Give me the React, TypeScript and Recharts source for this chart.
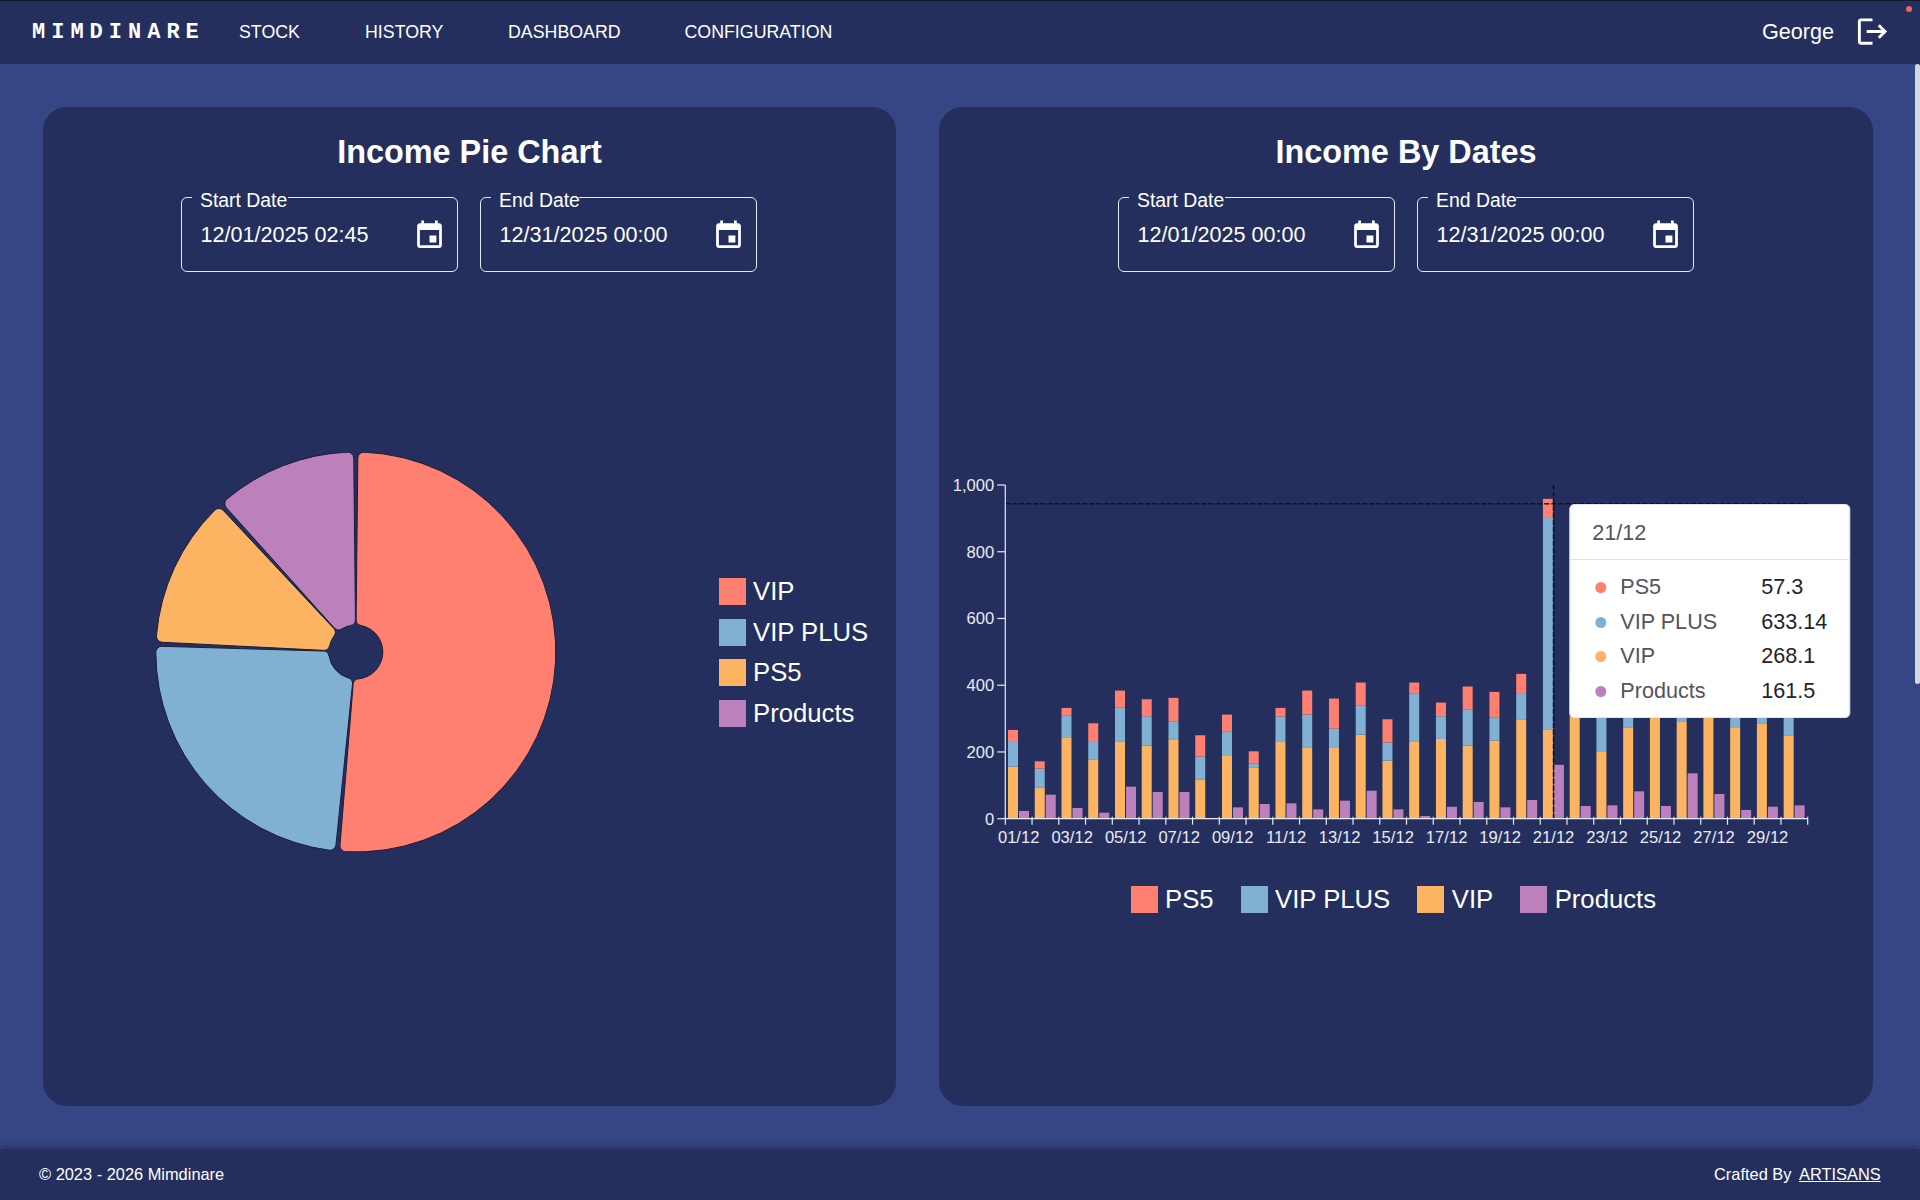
import {
  Bar,
  BarChart,
  Cell,
  Legend,
  Pie,
  PieChart,
  ReferenceLine,
  Tooltip,
  XAxis,
  YAxis
} from 'recharts';

const dates = [
  '01/12', '02/12', '03/12', '04/12', '05/12', '06/12', '07/12', '08/12', '09/12', '10/12',
  '11/12', '12/12', '13/12', '14/12', '15/12', '16/12', '17/12', '18/12', '19/12', '20/12',
  '21/12', '22/12', '23/12', '24/12', '25/12', '26/12', '27/12', '28/12', '29/12', '30/12'
];
const vipValues = [156, 94, 242, 178, 232, 219, 238, 118, 188, 154, 230, 212, 212, 252, 174, 230, 239, 219, 234, 296, 268.1, 336, 200, 274, 330, 292, 320, 274, 284, 248];
const vipPlusValues = [74, 56, 68, 52, 102, 88, 54, 68, 74, 12, 76, 100, 58, 88, 54, 146, 68, 109, 70, 78, 633.14, 65, 130, 60, 40, 60, 50, 70, 60, 90];
const ps5Values = [36, 22, 22, 56, 50, 51, 70, 64, 50, 36, 26, 72, 90, 68, 70, 32, 41, 68, 76, 60, 57.3, 47, 40, 50, 45, 40, 48, 45, 50, 40];
const productValues = [23, 72, 32, 18, 96, 80, 80, 0, 34, 44, 46, 28, 54, 84, 28, 8, 36, 50, 34, 56, 161.5, 38, 40, 82, 38, 136, 74, 26, 36, 40];

const pieNames = ['VIP', 'VIP PLUS', 'PS5', 'Products'];
const pieValues = [7055, 3289, 1687, 1583];
const pieColors = ['#FF7F71', '#80B1D3', '#FDB462', '#BC80BD'];

const barLegend = [
  { name: 'PS5', color: '#FF7F71' },
  { name: 'VIP PLUS', color: '#80B1D3' },
  { name: 'VIP', color: '#FDB462' },
  { name: 'Products', color: '#BC80BD' }
];
const yTicks = [0, 200, 400, 600, 800, 1000];
const navItems = [
  { label: 'STOCK', left: 239 },
  { label: 'HISTORY', left: 365 },
  { label: 'DASHBOARD', left: 508 },
  { label: 'CONFIGURATION', left: 684.5 }
];

const chartData = dates.map((date, i) => ({
  date,
  vip: vipValues[i],
  vipPlus: vipPlusValues[i],
  ps5: ps5Values[i],
  products: productValues[i]
}));
const pieData = pieNames.map((name, i) => ({ name, value: pieValues[i] }));

const FONT = '"Liberation Sans", Arial, sans-serif';
const CARD = '#242F5E';
const PAGE = '#364684';
const AXIS = '#E9EAF2';
const PLOT_WIDTH = 801.4;
const BAND = PLOT_WIDTH / dates.length;

function CalendarIcon({ left, top }: { left: number; top: number }) {
  return (
    <svg viewBox="0 0 24 24" width={33} height={33} style={{ position: 'absolute', left, top }}>
      <path fill="#fff" d="M17 12h-5v5h5v-5zM16 1v2H8V1H6v2H5c-1.11 0-1.99.9-1.99 2L3 19c0 1.1.89 2 2 2h14c1.1 0 2-.9 2-2V5c0-1.1-.9-2-2-2h-1V1h-2zm3 18H5V8h14v11z" />
    </svg>
  );
}

function DateField({ left, label, value, notch }: { left: number; label: string; value: string; notch: number }) {
  return (
    <div style={{ position: 'absolute', left, top: 197, width: 277, height: 75, boxSizing: 'border-box', border: '1.5px solid #E8E9F0', borderRadius: 6 }}>
      <div style={{ position: 'absolute', left: 10, top: -3, width: notch, height: 5, background: CARD }} />
      <div style={{ position: 'absolute', left: 18, top: -9, fontSize: 19.4, lineHeight: '22px', color: '#fff' }}>{label}</div>
      <div style={{ position: 'absolute', left: 18.5, top: 24, fontSize: 21.6, lineHeight: '26px', color: '#fff' }}>{value}</div>
      <CalendarIcon left={231} top={21} />
    </div>
  );
}

function XTick({ x, y, payload, index }: any) {
  const axisY = y - 10;
  return (
    <g>
      <line x1={x - BAND / 2} x2={x - BAND / 2} y1={axisY} y2={axisY + 8} stroke={AXIS} strokeWidth={1.2} />
      {index === dates.length - 1 ? (
        <line x1={x + BAND / 2} x2={x + BAND / 2} y1={axisY} y2={axisY + 8} stroke={AXIS} strokeWidth={1.2} />
      ) : null}
      {index % 2 === 0 ? (
        <text x={x} y={y + 16} textAnchor="middle" fontSize={16.6} fill={AXIS} fontFamily={FONT}>
          {payload.value}
        </text>
      ) : null}
    </g>
  );
}

function IncomeTooltip({ payload, label }: any) {
  if (!payload?.length) return null;
  return (
    <div style={{ width: 281, height: 214, boxSizing: 'border-box', background: '#fff', borderRadius: 5, border: '1px solid #E3E4EA', fontFamily: FONT, fontSize: 21.6, color: '#55535F' }}>
      <div style={{ height: 54, lineHeight: '55px', paddingLeft: 22, borderBottom: '1.5px solid #DFE0E6' }}>{label}</div>
      <div style={{ paddingTop: 10 }}>
        {barLegend.map((item) => {
          const row = payload.find((entry: any) => entry.name === item.name);
          return (
            <div key={item.name} style={{ position: 'relative', height: 34.7, lineHeight: '34.7px' }}>
              <span style={{ position: 'absolute', left: 25, top: 12, width: 11, height: 11, borderRadius: '50%', background: item.color }} />
              <span style={{ position: 'absolute', left: 50 }}>{item.name}</span>
              <span style={{ position: 'absolute', left: 191, color: '#25232C' }}>{row?.value}</span>
            </div>
          );
        })}
      </div>
    </div>
  );
}

function PieLegend() {
  return (
    <div style={{ paddingTop: 1, fontFamily: FONT, fontSize: 25.7, color: '#fff' }}>
      {pieNames.map((name, i) => (
        <div key={name} style={{ display: 'flex', alignItems: 'center', height: 40.5 }}>
          <span style={{ width: 27, height: 27, background: pieColors[i], marginRight: 7 }} />
          {name}
        </div>
      ))}
    </div>
  );
}

function BarLegend() {
  return (
    <div style={{ display: 'flex', alignItems: 'center', height: 40, paddingLeft: 191.5, fontFamily: FONT, fontSize: 25.7, color: '#fff' }}>
      {barLegend.map((item) => (
        <div key={item.name} style={{ display: 'flex', alignItems: 'center', marginRight: 27 }}>
          <span style={{ width: 27, height: 27, background: item.color, marginRight: 7.5 }} />
          {item.name}
        </div>
      ))}
    </div>
  );
}

export default function App() {
  return (
    <div style={{ position: 'absolute', left: 0, top: 0, width: 1920, height: 1200, overflow: 'hidden', background: PAGE, fontFamily: FONT, color: '#fff' }}>
      {/* header */}
      <div style={{ position: 'absolute', left: 0, top: 0, width: 1920, height: 64, boxSizing: 'border-box', background: CARD, borderTop: '1px solid #14182E' }}>
        <div style={{ position: 'absolute', left: 32, top: 20, fontFamily: '"Liberation Mono", monospace', fontWeight: 700, fontSize: 22, lineHeight: '24px', letterSpacing: 6 }}>MIMDINARE</div>
        {navItems.map((item) => (
          <div key={item.label} style={{ position: 'absolute', left: item.left, top: 20, fontSize: 17.8, lineHeight: '22px' }}>{item.label}</div>
        ))}
        <div style={{ position: 'absolute', left: 1762, top: 18, fontSize: 21.6, lineHeight: '26px' }}>George</div>
        <svg viewBox="0 0 24 24" width={35} height={35} style={{ position: 'absolute', left: 1855, top: 13 }}>
          <path fill="#fff" d="M17 7l-1.41 1.41L18.17 11H8v2h10.17l-2.58 2.58L17 17l5-5zM4 5h8V3H4c-1.1 0-2 .9-2 2v14c0 1.1.9 2 2 2h8v-2H4V5z" />
        </svg>
        <div style={{ position: 'absolute', left: 1906, top: 5, width: 6, height: 6, borderRadius: '50%', background: '#F0655A' }} />
      </div>

      {/* pie card */}
      <div style={{ position: 'absolute', left: 43, top: 106.5, width: 853, height: 999.5, background: CARD, borderRadius: 24 }} />
      <div style={{ position: 'absolute', left: 43, top: 131, width: 853, textAlign: 'center', fontSize: 32.4, fontWeight: 700, lineHeight: '42px' }}>Income Pie Chart</div>
      <DateField left={181} label="Start Date" value="12/01/2025 02:45" notch={96} />
      <DateField left={480} label="End Date" value="12/31/2025 00:00" notch={88} />
      <div style={{ position: 'absolute', left: 43, top: 300 }}>
        <PieChart width={852} height={704} margin={{ top: 0, right: 0, bottom: 0, left: 0 }}>
          <Pie
            data={pieData}
            dataKey="value"
            nameKey="name"
            cx={312.8}
            cy={352}
            innerRadius={27}
            outerRadius={200}
            startAngle={89.4}
            endAngle={-270.6}
            paddingAngle={1.2}
            cornerRadius={6}
            stroke="#1A1D38"
            strokeWidth={1}
            isAnimationActive={false}
          >
            {pieData.map((entry, i) => (
              <Cell key={entry.name} fill={pieColors[i]} />
            ))}
          </Pie>
          <Legend layout="vertical" align="right" verticalAlign="middle" wrapperStyle={{ left: 676, width: 176 }} content={<PieLegend />} />
        </PieChart>
      </div>

      {/* bar card */}
      <div style={{ position: 'absolute', left: 939, top: 106.5, width: 934, height: 999.5, background: CARD, borderRadius: 24 }} />
      <div style={{ position: 'absolute', left: 939, top: 131, width: 934, textAlign: 'center', fontSize: 32.4, fontWeight: 700, lineHeight: '42px' }}>Income By Dates</div>
      <DateField left={1118} label="Start Date" value="12/01/2025 00:00" notch={96} />
      <DateField left={1417} label="End Date" value="12/31/2025 00:00" notch={88} />
      <div style={{ position: 'absolute', left: 939, top: 440 }}>
        <BarChart
          width={934}
          height={479}
          data={chartData}
          margin={{ top: 45, right: 65.3, bottom: 0, left: 6 }}
          barGap={1}
          barCategoryGap={2.7}
        >
          <XAxis
            dataKey="date"
            interval={0}
            height={60.3}
            tickLine={false}
            tick={XTick}
            axisLine={{ stroke: AXIS, strokeWidth: 1.2 }}
          />
          <YAxis
            width={60.3}
            domain={[0, 1000]}
            ticks={yTicks}
            tickSize={8}
            tickMargin={3}
            tickFormatter={(value: number) => value.toLocaleString('en-US')}
            tick={{ fill: AXIS, fontSize: 16.6, fontFamily: FONT }}
            tickLine={{ stroke: AXIS, strokeWidth: 1.2 }}
            axisLine={{ stroke: AXIS, strokeWidth: 1.2 }}
          />
          <Bar dataKey="vip" name="VIP" stackId="a" fill="#FDB462" isAnimationActive={false} />
          <Bar dataKey="vipPlus" name="VIP PLUS" stackId="a" fill="#80B1D3" isAnimationActive={false} />
          <Bar dataKey="ps5" name="PS5" stackId="a" fill="#FF7F71" isAnimationActive={false} />
          <Bar dataKey="products" name="Products" stackId="b" fill="#BC80BD" isAnimationActive={false} />
          <ReferenceLine x="21/12" stroke="#10131F" strokeWidth={1.6} strokeDasharray="5 2" />
          <ReferenceLine y={944} stroke="#10131F" strokeWidth={1.6} strokeDasharray="5 2" />
          <Legend verticalAlign="bottom" height={40} wrapperStyle={{ left: 0, width: 934 }} content={<BarLegend />} />
          <Tooltip
            active
            defaultIndex={20}
            cursor={false}
            position={{ x: 630.3, y: 64 }}
            allowEscapeViewBox={{ x: true, y: true }}
            isAnimationActive={false}
            content={<IncomeTooltip />}
          />
        </BarChart>
      </div>

      {/* footer */}
      <div style={{ position: 'absolute', left: 0, top: 1149, width: 1920, height: 51, background: CARD, boxShadow: '0 -3px 6px rgba(20,24,50,0.35)', fontSize: 16.4 }}>
        <div style={{ position: 'absolute', left: 39, top: 15, lineHeight: '20px' }}>© 2023 - 2026 Mimdinare</div>
        <div style={{ position: 'absolute', left: 1714, top: 15, lineHeight: '20px' }}>Crafted By</div>
        <div style={{ position: 'absolute', left: 1799, top: 15, lineHeight: '20px', textDecoration: 'underline' }}>ARTISANS</div>
      </div>

      {/* scrollbar */}
      <div style={{ position: 'absolute', left: 1915, top: 64, width: 5, height: 620, background: '#D4D6E0', borderRadius: 3 }} />
    </div>
  );
}
